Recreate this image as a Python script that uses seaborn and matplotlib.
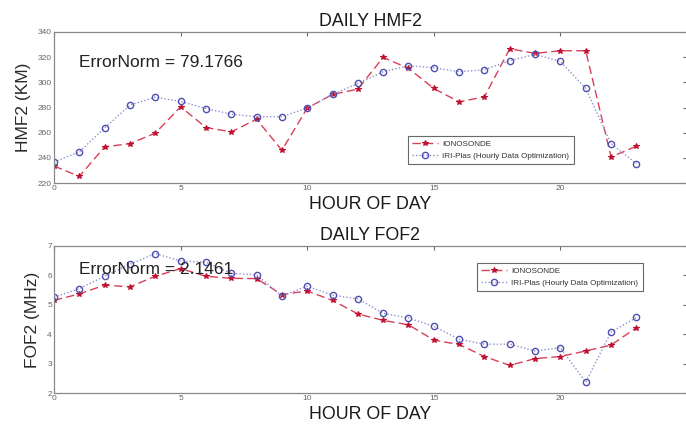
import matplotlib
matplotlib.use("Agg")
import matplotlib.pyplot as plt
import seaborn as sns
import pandas as pd
import numpy as np

hours = list(range(24))
hmf2_iono = [233.5, 225.3, 248.7, 251.3, 259.6, 280.5, 264.1, 260.6, 270.7, 246.0, 279.5, 290.4,
             294.6, 319.8, 311.1, 295.1, 284.5, 288.5, 326.7, 323.0, 325.1, 325.1, 240.7, 249.2]
hmf2_iri = [236.7, 244.7, 263.8, 281.9, 288.2, 284.8, 279.2, 274.7, 272.6, 272.8, 279.5, 290.4,
            299.1, 308.4, 313.2, 311.6, 308.4, 310.0, 317.2, 322.2, 316.6, 295.1, 251.3, 235.4]
fof2_iono = [5.15, 5.37, 5.67, 5.61, 5.97, 6.23, 5.97, 5.90, 5.89, 5.35, 5.47, 5.15,
             4.69, 4.47, 4.32, 3.80, 3.65, 3.24, 2.94, 3.17, 3.24, 3.43, 3.63, 4.22]
fof2_iri = [5.26, 5.55, 5.97, 6.38, 6.74, 6.49, 6.45, 6.07, 6.02, 5.30, 5.63, 5.33,
            5.20, 4.71, 4.55, 4.27, 3.83, 3.66, 3.66, 3.43, 3.54, 2.37, 4.07, 4.57]
series_names = ["IONOSONDE", "IRI-Plas (Hourly Data Optimization)"]
titles = ["DAILY HMF2", "DAILY FOF2"]
ylabels = ["HMF2 (KM)", "FOF2 (MHz)"]
xlabel = "HOUR OF DAY"
err_texts = ["ErrorNorm = 79.1766", "ErrorNorm = 2.1461"]
hmf2_ticks = [220, 240, 260, 280, 300, 320, 340]
fof2_ticks = [2, 3, 4, 5, 6, 7]
x_ticks = [0, 5, 10, 15, 20, 25]
x_tick_labels = ["0", "5", "10", "15", "20", ""]

sns.set_style("white")
plt.rcParams['font.family'] = ['Liberation Sans', 'DejaVu Sans']

W, H = 686, 425
fig = plt.figure(figsize=(W / 100, H / 100), dpi=100)

def frac(x0, y0, x1, y1):
    return [x0 / W, 1 - y1 / H, (x1 - x0) / W, (y1 - y0) / H]

ax1 = fig.add_axes(frac(54, 32, 687, 183))
ax2 = fig.add_axes(frac(54, 246, 687, 393))

datasets = [(hmf2_iono, hmf2_iri), (fof2_iono, fof2_iri)]
yl = [(220, 340), (2, 7)]
yt = [hmf2_ticks, fof2_ticks]
text_pos = [(1.0, 316), (1.0, 6.2)]
leg_anchor = [(408 / W, 1 - 136 / H), (477 / W, 1 - 263 / H)]

for i, ax in enumerate([ax1, ax2]):
    iono, iri = datasets[i]
    df = pd.DataFrame({"hour": hours * 2,
                       "value": iono + iri,
                       "series": [series_names[0]] * 24 + [series_names[1]] * 24})
    sns.lineplot(data=df[df.series == series_names[0]], x="hour", y="value", ax=ax,
                 color="#d84058", linestyle=(0, (6, 3)), linewidth=1.0, marker="*",
                 markersize=4, markeredgecolor="#c01030", markerfacecolor="#c01030",
                 label=series_names[0])
    sns.lineplot(data=df[df.series == series_names[1]], x="hour", y="value", ax=ax,
                 color="#9090d0", linestyle=(0, (1, 1.5)), linewidth=1.0, marker="o",
                 markersize=4.5, markeredgecolor="#5050b0", markerfacecolor="none",
                 markeredgewidth=1.0, label=series_names[1])
    ax.set_xlim(0, 25)
    ax.set_ylim(*yl[i])
    ax.set_xticks(x_ticks)
    ax.set_xticklabels(x_tick_labels)
    ax.set_yticks(yt[i])
    ax.tick_params(direction="in", length=3, labelsize=6, colors="#666666",
                   top=True, right=True, pad=1.5)
    for s in ax.spines.values():
        s.set_color("#888888")
        s.set_linewidth(0.9)
    ax.set_title(titles[i], fontsize=12.8, pad=4, color="#1a1a1a")
    ax.set_xlabel(xlabel, fontsize=12.8, labelpad=3, color="#1a1a1a")
    ax.set_ylabel(ylabels[i], fontsize=12.5, labelpad=5, color="#2a2a2a")
    ax.text(text_pos[i][0], text_pos[i][1], err_texts[i], fontsize=12.5, va="center",
            ha="left", color="#222222")
    leg = ax.legend(loc="upper left", bbox_to_anchor=leg_anchor[i],
                    bbox_transform=fig.transFigure, fontsize=5.9, frameon=True,
                    fancybox=False, borderpad=0.5, handlelength=3.2, labelspacing=0.5,
                    handletextpad=0.5, borderaxespad=0)
    leg.get_frame().set_edgecolor("#444444")
    leg.get_frame().set_linewidth(0.8)
    for t in leg.get_texts():
        t.set_color("#333333")

fig.savefig("out.png", dpi=100)
